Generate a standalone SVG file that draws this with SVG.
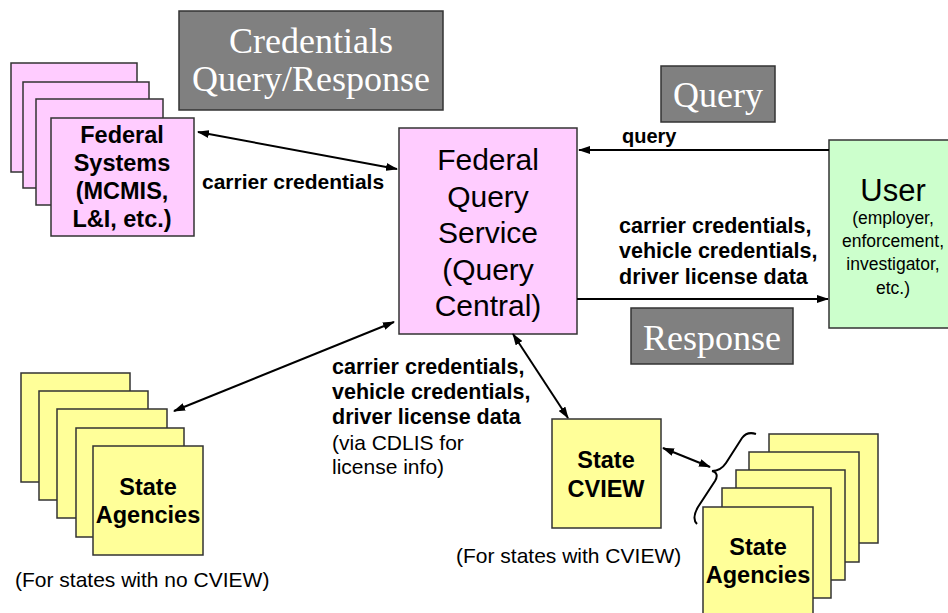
<svg xmlns="http://www.w3.org/2000/svg" width="948" height="613" viewBox="0 0 948 613">
<style>
.pink{fill:#FFCCFF;stroke:#333;stroke-width:1.5}
.yel{fill:#FFFF99;stroke:#333;stroke-width:1.5}
.grn{fill:#CCFFCC;stroke:#333;stroke-width:1.5}
.gray{fill:#808080;stroke:#333;stroke-width:1.5}
.tt{font-family:"Liberation Serif","Times New Roman",serif;font-size:36px;fill:#fff;text-anchor:middle}
.b{font-family:"Liberation Sans",Arial,sans-serif;font-weight:bold;fill:#000}
.r{font-family:"Liberation Sans",Arial,sans-serif;fill:#000}
.c{text-anchor:middle}
.ln{stroke:#000;stroke-width:2;fill:none}
</style>
<defs>
<marker id="ah" viewBox="0 0 12 8" refX="11" refY="4" markerWidth="12" markerHeight="8" markerUnits="userSpaceOnUse" orient="auto-start-reverse">
<path d="M0,0 L12,4 L0,8 z" fill="#000"/>
</marker>
</defs>
<rect width="948" height="613" fill="#fff"/>

<g id="title-credentials">
<rect class="gray" x="179" y="11" width="264" height="99"/>
<text class="tt" x="311" y="53">Credentials</text>
<text class="tt" x="311" y="91">Query/Response</text>
</g>

<g id="title-query">
<rect class="gray" x="661" y="66" width="114" height="56"/>
<text class="tt" x="718" y="107">Query</text>
</g>

<g id="title-response">
<rect class="gray" x="631" y="308" width="162" height="56"/>
<text class="tt" x="712" y="350">Response</text>
</g>

<g id="federal-systems">
<rect class="pink" x="11" y="63" width="126" height="109"/>
<rect class="pink" x="23" y="82" width="126" height="106"/>
<rect class="pink" x="36" y="99" width="127" height="106"/>
<rect class="pink" x="51" y="118" width="143" height="118"/>
<text class="b c" font-size="23.5" x="122" y="143">Federal</text>
<text class="b c" font-size="23.5" x="122" y="171">Systems</text>
<text class="b c" font-size="23.5" x="122" y="199">(MCMIS,</text>
<text class="b c" font-size="23.5" x="122" y="227">L&amp;I, etc.)</text>
</g>

<g id="federal-query-service">
<rect class="pink" x="399" y="128" width="178" height="206"/>
<text class="r c" font-size="30" x="488" y="170">Federal</text>
<text class="r c" font-size="30" x="488" y="207">Query</text>
<text class="r c" font-size="30" x="488" y="243">Service</text>
<text class="r c" font-size="30" x="488" y="280">(Query</text>
<text class="r c" font-size="30" x="488" y="316">Central)</text>
</g>

<g id="user">
<rect class="grn" x="829" y="140" width="130" height="188"/>
<text class="r c" font-size="31" x="893" y="201">User</text>
<text class="r c" font-size="17.5" x="893" y="224">(employer,</text>
<text class="r c" font-size="17.5" x="893" y="247">enforcement,</text>
<text class="r c" font-size="17.5" x="893" y="270">investigator,</text>
<text class="r c" font-size="17.5" x="893" y="294">etc.)</text>
</g>

<g id="state-agencies-left">
<rect class="yel" x="21" y="373" width="109" height="109"/>
<rect class="yel" x="39" y="391" width="109" height="109"/>
<rect class="yel" x="57" y="409" width="110" height="109"/>
<rect class="yel" x="76" y="428" width="108" height="109"/>
<rect class="yel" x="93" y="446" width="110" height="109"/>
<text class="b c" font-size="23.5" x="148" y="495">State</text>
<text class="b c" font-size="23.5" x="148" y="523">Agencies</text>
<text class="r" font-size="21" x="15" y="587">(For states with no CVIEW)</text>
</g>

<g id="state-cview">
<rect class="yel" x="552" y="419" width="109" height="109"/>
<text class="b c" font-size="23.5" x="606" y="468">State</text>
<text class="b c" font-size="23.5" x="606" y="497">CVIEW</text>
<text class="r" font-size="21" x="456" y="563">(For states with CVIEW)</text>
</g>

<g id="state-agencies-right">
<rect class="yel" x="769" y="434" width="109" height="109"/>
<rect class="yel" x="749" y="452" width="110" height="110"/>
<rect class="yel" x="736" y="470" width="109" height="110"/>
<rect class="yel" x="722" y="488" width="109" height="110"/>
<rect class="yel" x="703" y="507" width="110" height="115"/>
<text class="b c" font-size="23.5" x="758" y="555">State</text>
<text class="b c" font-size="23.5" x="758" y="583">Agencies</text>
<path class="ln" stroke-width="1.5" d="M756,434 C750,432 745,434 742,438 L726,463 C722,469 718,471 712,471 C717,472 718,476 715,481 L698,507 C694,514 693,520 697,524"/>
</g>

<g id="connectors">
<line class="ln" x1="198" y1="132" x2="397" y2="169" marker-start="url(#ah)" marker-end="url(#ah)"/>
<line class="ln" x1="829" y1="150" x2="579" y2="150" marker-end="url(#ah)"/>
<line class="ln" x1="577" y1="299" x2="828" y2="299" marker-end="url(#ah)"/>
<line class="ln" x1="394" y1="322" x2="174" y2="411" marker-start="url(#ah)" marker-end="url(#ah)"/>
<line class="ln" x1="513" y1="334" x2="568" y2="418" marker-start="url(#ah)" marker-end="url(#ah)"/>
<line class="ln" x1="663" y1="448" x2="710" y2="467" marker-start="url(#ah)" marker-end="url(#ah)"/>
<text class="b" font-size="21" x="202" y="189">carrier credentials</text>
<text class="b" font-size="20" x="622" y="143">query</text>
<text class="b" font-size="21.5" x="619" y="233">carrier credentials,</text>
<text class="b" font-size="21.5" x="619" y="258">vehicle credentials,</text>
<text class="b" font-size="21.5" x="619" y="284">driver license data</text>
<text class="b" font-size="21.5" x="332" y="374">carrier credentials,</text>
<text class="b" font-size="21.5" x="332" y="399">vehicle credentials,</text>
<text class="b" font-size="21.5" x="332" y="424">driver license data</text>
<text class="r" font-size="21" x="332" y="450">(via CDLIS for</text>
<text class="r" font-size="21" x="332" y="474">license info)</text>
</g>
</svg>
